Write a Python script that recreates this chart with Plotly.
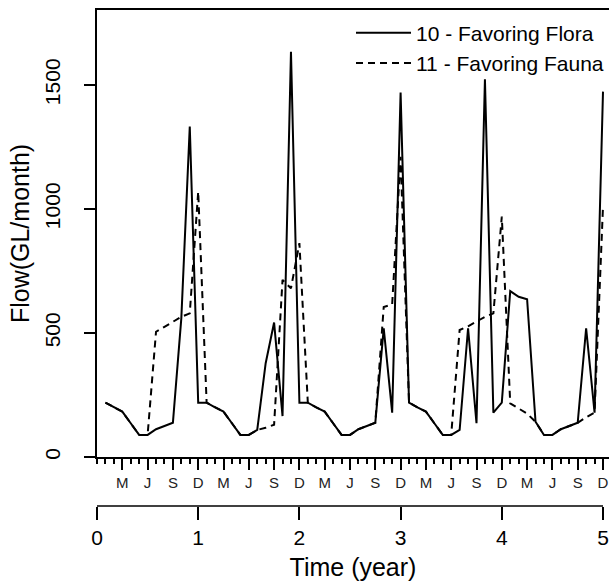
import plotly.graph_objects as go

# Monthly flows (GL/month), months 1..60 (x = month/12 years)
MONTHS = list(range(1, 61))
FLORA = [
    219, 200, 183, 136, 89, 89, 112, 125, 138, 560, 1332, 219,
    219, 200, 183, 136, 89, 89, 109, 378, 542, 165, 1634, 219,
    219, 200, 183, 136, 89, 89, 112, 125, 138, 519, 179, 1469,
    219, 200, 183, 136, 89, 89, 109, 519, 136, 1523, 179, 219,
    669, 646, 636, 142, 89, 89, 112, 125, 138, 519, 179, 1473,
]
FAUNA = [
    219, 200, 183, 136, 89, 89, 505, 525, 545, 565, 579, 1070,
    219, 200, 183, 136, 89, 89, 109, 118, 130, 714, 680, 862,
    219, 200, 183, 136, 89, 89, 112, 125, 138, 605, 615, 1210,
    219, 200, 183, 136, 89, 89, 512, 527, 545, 565, 579, 969,
    216, 195, 175, 142, 89, 89, 112, 125, 138, 160, 179, 1010,
]
SERIES_NAMES = ["10 - Favoring Flora", "11 - Favoring Fauna"]

QTR_LETTERS = ["M", "J", "S", "D"]
YEAR_TICKS = [0, 1, 2, 3, 4, 5]
Y_TICKS = [0, 500, 1000, 1500]

x_years = [m / 12 for m in MONTHS]
qtr_vals = [q / 4 for q in range(0, 21)]
qtr_text = [""] + [QTR_LETTERS[(q - 1) % 4] for q in range(1, 21)]
month_vals = [m / 12 for m in range(0, 61)]

W, H = 609, 587
left, top = 97, 10
axis_bottom_px = 457
year_line_px = 506
XMAX = 5 * (W - left) / (603 - left)

FONT = "Liberation Sans, Arial, sans-serif"

fig = go.Figure()
fig.add_trace(go.Scatter(x=x_years, y=FLORA, mode="lines", name=SERIES_NAMES[0],
                         line=dict(color="black", width=2)))
fig.add_trace(go.Scatter(x=x_years, y=FAUNA, mode="lines", name=SERIES_NAMES[1],
                         line=dict(color="black", width=2, dash="7px,5px")))

paper_h = year_line_px - top
ydom0 = (year_line_px - axis_bottom_px) / paper_h

fig.update_layout(
    width=W, height=H,
    margin=dict(l=left, r=0, t=top, b=H - year_line_px, pad=0),
    paper_bgcolor="white", plot_bgcolor="white",
    font=dict(family=FONT, color="black"),
    showlegend=True,
    legend=dict(x=1.0, xanchor="right", y=0.995, yanchor="top",
                bgcolor="rgba(0,0,0,0)", font=dict(size=21, color="black"),
                tracegroupgap=0, itemwidth=55),
    xaxis=dict(range=[0, XMAX], domain=[0, 1], anchor="y",
               tickmode="array", tickvals=qtr_vals, ticktext=qtr_text,
               ticks="outside", ticklen=11, tickwidth=1.5, tickcolor="black",
               minor=dict(tickmode="array", tickvals=month_vals, ticks="outside",
                          ticklen=5, tickwidth=1.5, tickcolor="black", showgrid=False),
               tickfont=dict(size=15, color="#222"),
               showline=True, linewidth=2, linecolor="black", mirror=True,
               showgrid=False, zeroline=False),
    xaxis2=dict(range=[0, XMAX], overlaying="x", anchor="free", position=0,
                side="bottom", tickmode="array", tickvals=YEAR_TICKS,
                ticktext=[str(v) for v in YEAR_TICKS],
                ticks="outside", ticklen=13, tickwidth=1.5, tickcolor="black",
                tickfont=dict(size=21), showline=False, showgrid=False, zeroline=False,
                title=dict(text="Time (year)", font=dict(size=25), standoff=10)),
    yaxis=dict(range=[0, 1802], domain=[ydom0, 1], anchor="x",
               tickmode="array", tickvals=Y_TICKS, ticktext=[str(v) for v in Y_TICKS],
               ticks="outside", ticklen=11, tickwidth=1.5, tickcolor="black",
               tickangle=-90, tickfont=dict(size=21), ticklabelstandoff=16,
               showline=True, linewidth=2, linecolor="black",
               showgrid=False, zeroline=False,
               title=dict(text="Flow(GL/month)", font=dict(size=25), standoff=4)),
)

fig.add_shape(type="line", xref="x2", yref="paper",
              x0=YEAR_TICKS[0], x1=YEAR_TICKS[-1], y0=0, y1=0,
              line=dict(color="black", width=1.5))

fig.write_html("out.html")
